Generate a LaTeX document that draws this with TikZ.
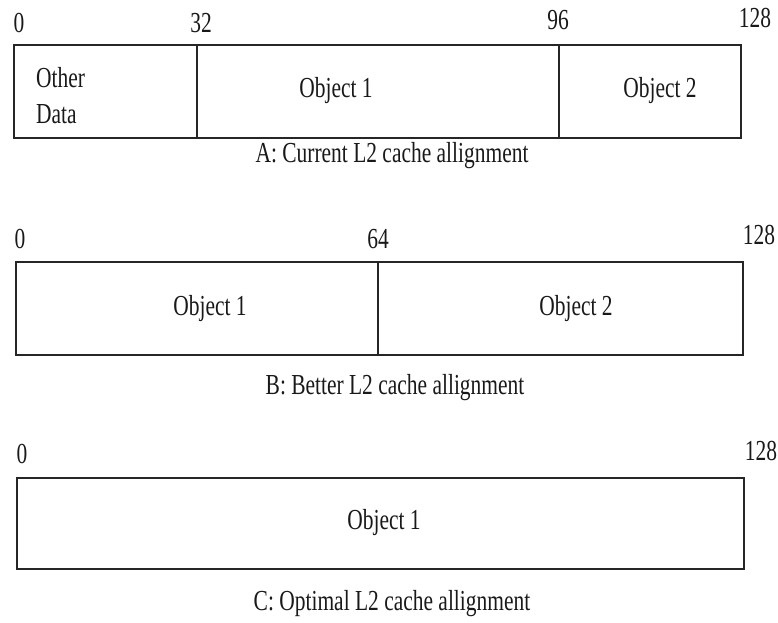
\documentclass[tikz,border=0pt]{standalone}
\usepackage{fontspec}
\setmainfont{Liberation Serif}[FakeStretch=0.74]
\begin{document}
\begin{tikzpicture}[x=1pt,y=1pt,
  cellline/.style={draw=black!85, line width=1.3pt},
  txt/.style={inner sep=0pt, font=\fontsize{29}{34}\selectfont, text=black!90}]
\useasboundingbox (0,0) rectangle (778,622);
% A
\draw[cellline] (14,484) rectangle (741,577);
\draw[cellline] (197,484) -- (197,577);
\draw[cellline] (559,484) -- (559,577);
\node[txt] (a0) at (19,599) {0};
\node[txt] (a32) at (201,599) {32};
\node[txt] (a96) at (558,602) {96};
\node[txt] (a128) at (755,604) {128};
\node[txt, anchor=west, align=left] (aoth) at (36,526) {Other\\[2pt]Data};
\node[txt] (ao1) at (336,531) {Object 1};
\node[txt] (ao2) at (660,531) {Object 2};
\node[txt] (acap) at (392,466) {A: Current L2 cache allignment};
% B
\draw[cellline] (16,267) rectangle (743,360);
\draw[cellline] (378,267) -- (378,360);
\node[txt] (b0) at (20,383) {0};
\node[txt] (b64) at (378,383) {64};
\node[txt] (b128) at (759,387) {128};
\node[txt] (bo1) at (210,313) {Object 1};
\node[txt] (bo2) at (576,313) {Object 2};
\node[txt] (bcap) at (395,234) {B: Better L2 cache allignment};
% C
\draw[cellline] (17,53) rectangle (744,144);
\node[txt] (c0) at (22,168) {0};
\node[txt] (c128) at (761,171) {128};
\node[txt] (co1) at (384,99) {Object 1};
\node[txt] (ccap) at (392,18) {C: Optimal L2 cache allignment};
\end{tikzpicture}
\end{document}
